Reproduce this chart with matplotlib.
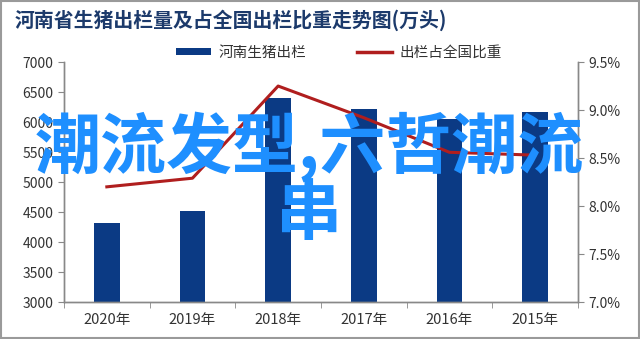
import numpy as np
import matplotlib
matplotlib.use("Agg")
import matplotlib.pyplot as plt
from matplotlib.patches import Patch
from matplotlib.lines import Line2D
from matplotlib.ticker import FixedLocator, NullFormatter

plt.rcParams['font.family'] = ['Noto Sans CJK SC', 'DejaVu Sans']

# --- dados ---
years = ["2020年", "2019年", "2018年", "2017年", "2016年", "2015年"]
output_10k = [4311, 4517, 6402, 6220, 6050, 6171]      # 万头
share_pct = [8.20, 8.29, 9.25, 8.92, 8.56, 8.53]       # %

title = "河南省生猪出栏量及占全国出栏比重走势图(万头)"
label_bar = "河南生猪出栏"
label_line = "出栏占全国比重"
overlay = "潮流发型,六哲潮流\n串"

BAR_COLOR = "#0b3a84"
LINE_COLOR = "#b01e1e"
TEXT_COLOR = "#333333"

fig = plt.figure(figsize=(6.4, 3.39), dpi=100)
ax = fig.add_axes([0.1, 0.109, 0.803, 0.708])
ax2 = ax.twinx()

x = np.arange(len(years))
ax.bar(x, output_10k, width=0.3, color=BAR_COLOR, zorder=2)
ax2.plot(x, share_pct, color=LINE_COLOR, lw=2.2, zorder=3)

ax.set_xlim(-0.5, len(years) - 0.5)
ax.set_ylim(3000, 7000)
ax.set_yticks(np.arange(3000, 7001, 500))
ax2.set_ylim(7.0, 9.5)
ax2.set_yticks(np.arange(7.0, 9.51, 0.5))
ax2.set_yticklabels([f"{v:.1f}%" for v in np.arange(7.0, 9.51, 0.5)])

ax.set_xticks(x)
ax.set_xticklabels(years)
ax.xaxis.set_minor_locator(FixedLocator(np.arange(-0.5, len(years), 1.0)))
ax.xaxis.set_minor_formatter(NullFormatter())
ax.tick_params(axis='x', which='major', length=0, pad=8, labelsize=10.5, colors=TEXT_COLOR)
ax.tick_params(axis='x', which='minor', length=4, color='#888888')
ax.tick_params(axis='y', length=4, color='#888888', labelsize=10, labelcolor=TEXT_COLOR)
ax2.tick_params(axis='y', length=4, color='#888888', labelsize=10, labelcolor=TEXT_COLOR)

for a in (ax, ax2):
    a.spines['top'].set_visible(False)
    for s in ('left', 'right', 'bottom'):
        a.spines[s].set_color('#888888')
        a.spines[s].set_linewidth(1.0)

# legenda
handles = [Patch(facecolor=BAR_COLOR, label=label_bar),
           Line2D([0], [0], color=LINE_COLOR, lw=2.5, label=label_line)]
fig.legend(handles=handles, loc='center', bbox_to_anchor=(0.53, 0.845), ncol=2,
           frameon=False, fontsize=10.5, handlelength=2.4, handleheight=0.4,
           handletextpad=0.5, columnspacing=3.5, labelcolor=TEXT_COLOR)

fig.text(0.023, 0.94, title, fontsize=14.3, fontweight='bold', color='#1c3a6b',
         ha='left', va='center')

# texto sobreposto
fig.text(0.483, 0.47, overlay, fontsize=47.5, fontweight='bold', color='#1e8fff',
         ha='center', va='center', linespacing=0.98, zorder=10)

# moldura
fig.patches.append(plt.Rectangle((0.002, 0.003), 0.996, 0.994, transform=fig.transFigure,
                                 fill=False, edgecolor='#9a9a9a', lw=1.5))

fig.savefig("out.png", dpi=100)
